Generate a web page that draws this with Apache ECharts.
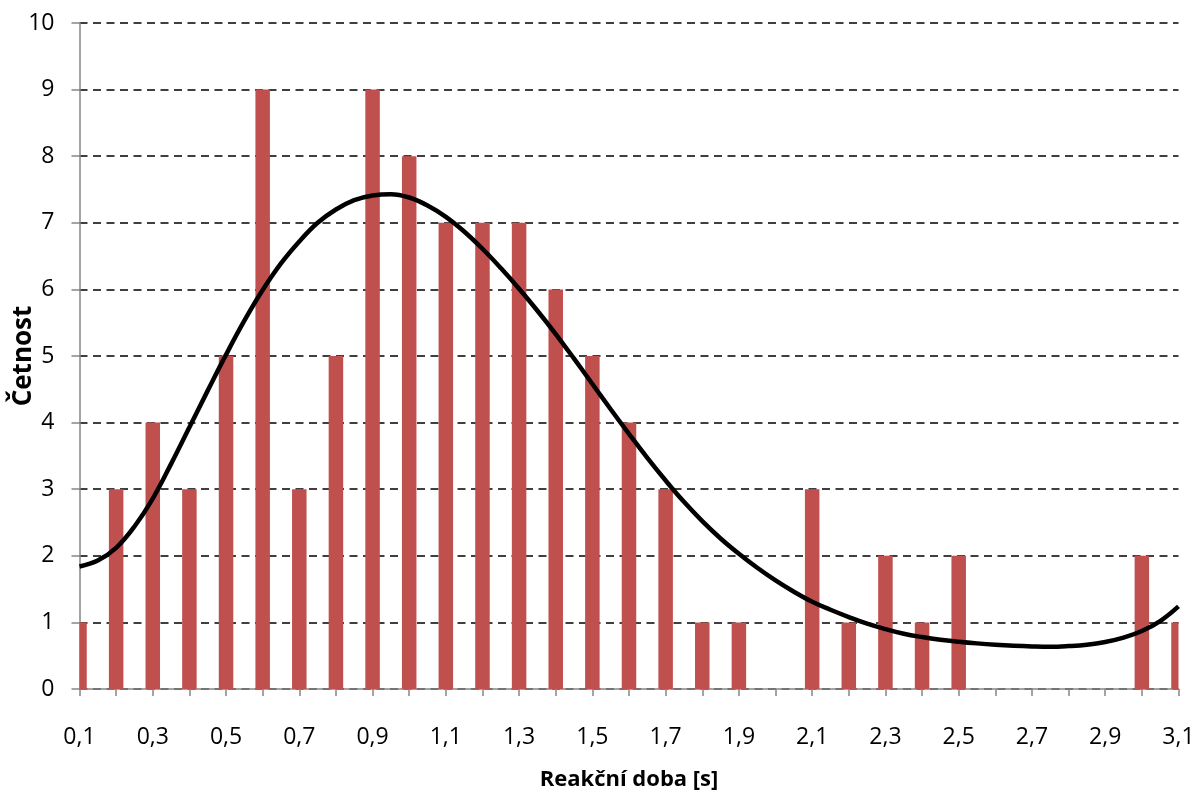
<!DOCTYPE html>
<html>
<head>
<meta charset="utf-8">
<script src="https://cdn.jsdelivr.net/npm/echarts@6/dist/echarts.min.js"></script>
<style>html,body{margin:0;padding:0;background:#fff}#c{width:1197px;height:792px}</style>
</head>
<body>
<div id="c"></div>
<script>
// Reaction time bins [s]
const binCenters = [0.1,0.2,0.3,0.4,0.5,0.6,0.7,0.8,0.9,1.0,1.1,1.2,1.3,1.4,1.5,1.6,1.7,1.8,1.9,2.0,2.1,2.2,2.3,2.4,2.5,2.6,2.7,2.8,2.9,3.0,3.1];
// Frequency (Četnost)
const counts = [1,3,4,3,5,9,3,5,9,8,7,7,7,6,5,4,3,1,1,0,3,1,2,1,2,0,0,0,0,2,1];
// Trend curve, every 0.05 s
const trendX = [0.1,0.15,0.2,0.25,0.3,0.35,0.4,0.45,0.5,0.55,0.6,0.65,0.7,0.75,0.8,0.85,0.9,0.95,1.0,1.05,1.1,1.15,1.2,1.25,1.3,1.35,1.4,1.45,1.5,1.55,1.6,1.65,1.7,1.75,1.8,1.85,1.9,1.95,2.0,2.05,2.1,2.15,2.2,2.25,2.3,2.35,2.4,2.45,2.5,2.55,2.6,2.65,2.7,2.75,2.8,2.85,2.9,2.95,3.0,3.05,3.1];
const trendY = [1.84,1.93,2.12,2.44,2.86,3.38,3.93,4.48,5.02,5.53,5.99,6.39,6.72,7.0,7.2,7.34,7.41,7.43,7.38,7.26,7.09,6.87,6.61,6.32,6.01,5.68,5.33,4.96,4.58,4.2,3.83,3.47,3.13,2.81,2.52,2.26,2.03,1.82,1.63,1.46,1.31,1.19,1.08,0.98,0.9,0.83,0.78,0.74,0.71,0.685,0.665,0.65,0.64,0.635,0.645,0.665,0.705,0.77,0.87,1.02,1.24];
const xRange = [0.1, 3.1, 0.1];
const yRange = [0, 10, 1];

const FONT = 'Open Sans';
const barData = binCenters.map((x, i) => [x, counts[i]]);
const lineData = trendX.map((x, i) => [x, trendY[i]]);

const chart = echarts.init(document.getElementById('c'));
chart.setOption({
  animation: false,
  backgroundColor: '#fff',
  grid: {left: 79.5, right: 18.5, top: 23, bottom: 103, containLabel: false, outerBoundsMode: 'none'},
  xAxis: {
    type: 'value',
    min: xRange[0], max: xRange[1], interval: xRange[2],
    name: 'Reakční doba [s]',
    nameLocation: 'middle',
    nameGap: 80,
    nameMoveOverlap: false,
    nameTextStyle: {fontFamily: FONT, fontWeight: 'bold', fontSize: 22, color: '#000'},
    axisLine: {lineStyle: {color: '#868686', width: 1.5}},
    axisTick: {show: true, length: 7, lineStyle: {color: '#868686', width: 1.5}},
    axisLabel: {
      margin: 37, fontFamily: FONT, fontSize: 23, color: '#000',
      formatter: function (v) {
        const k = Math.round(v * 10);
        return (k % 2 === 1) ? (k / 10).toFixed(1).replace('.', ',') : '';
      }
    },
    splitLine: {show: false}
  },
  yAxis: {
    type: 'value',
    min: yRange[0], max: yRange[1], interval: yRange[2],
    name: 'Četnost',
    nameLocation: 'middle',
    nameGap: 43,
    nameMoveOverlap: false,
    nameTextStyle: {fontFamily: FONT, fontWeight: 'bold', fontSize: 26, color: '#000'},
    axisLine: {show: true, lineStyle: {color: '#868686', width: 1.5}},
    axisTick: {show: true, length: 8, lineStyle: {color: '#868686', width: 1.5}},
    axisLabel: {margin: 25, fontFamily: FONT, fontSize: 23, color: '#000'},
    splitLine: {show: true, lineStyle: {color: '#000', width: 1.5, type: [8, 5.5]}}
  },
  series: [
    {
      type: 'custom',
      data: barData,
      encode: {x: 0, y: 1},
      z: 2,
      renderItem: function (params, api) {
        const x = api.value(0), v = api.value(1);
        if (!v) return null;
        const p0 = api.coord([x, 0]);
        const p1 = api.coord([x, v]);
        const w = 14.5;
        const cs = params.coordSys;
        const shape = echarts.graphic.clipRectByRect(
          {x: p0[0] - w / 2, y: p1[1], width: w, height: p0[1] - p1[1]},
          {x: cs.x, y: cs.y, width: cs.width, height: cs.height}
        );
        if (!shape) return null;
        return {type: 'rect', shape: shape, style: {fill: '#C0504D'}};
      }
    },
    {
      type: 'line',
      data: lineData,
      smooth: 0.4,
      symbol: 'none',
      lineStyle: {color: '#000', width: 4.5},
      z: 3
    }
  ]
});
</script>
</body>
</html>
